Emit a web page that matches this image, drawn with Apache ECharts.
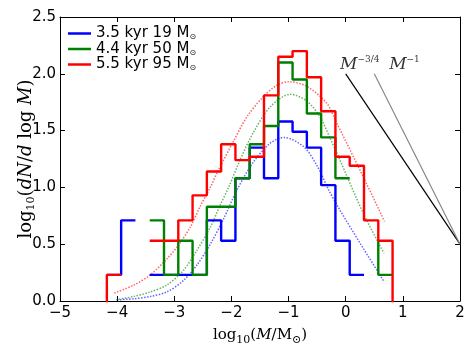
<!DOCTYPE html>
<html>
<head>
<meta charset="utf-8">
<script src="https://cdn.jsdelivr.net/npm/echarts@6/dist/echarts.min.js"></script>
<style>
html,body{margin:0;padding:0;background:#fff}
#main{width:474px;height:356px}
</style>
</head>
<body>
<div id="main"></div>
<script>
// bin edges, log10(M/Msun)
var binEdges = [-4.18,-3.93,-3.68,-3.43,-3.18,-2.93,-2.68,-2.43,-2.18,-1.93,-1.68,
                -1.43,-1.18,-0.93,-0.68,-0.43,-0.18,0.07,0.32,0.57,0.82];

// histogram runs (start = first bin, vals = log10(dN/dlogM) per bin, pre/post = edge level outside run)
var blueRuns = [
	{start:0, vals:[0.23,0.71]},
	{start:3, vals:[0.23,0.23,0.23,0.23,0.71,0.53,1.08,1.35,1.08,1.58,1.49,1.35,1.02,0.53,0.23]}
];
var greenRuns = [
	{start:3, vals:[0.71,0.23,0.53,0.23,0.83,0.83,1.08,1.38,1.54,2.10,1.95,1.65,1.44,1.08]},
	{start:19, vals:[0.23], pre:0.53}
];
var redRuns = [
	{start:0, vals:[0.23], pre:-1},
	{start:3, vals:[0.53,0.53,0.71,0.93,1.14,1.38,1.24,1.27,1.81,2.15,2.20,1.97,1.67,1.27,1.19,0.71,0.53], post:-1}
];

// fitted curves
var blueFit = [[-4.0,0.01],[-3.7,0.02],[-3.42,0.04],[-3.13,0.08],[-2.84,0.18],[-2.6,0.32],[-2.37,0.50],
	[-2.14,0.72],[-1.9,0.98],[-1.62,1.22],[-1.32,1.39],[-1.08,1.44],[-0.74,1.36],[-0.5,1.19],
	[-0.3,0.98],[-0.1,0.80],[0.25,0.51],[0.66,0.18]];
var greenFit = [[-4.02,0.01],[-3.71,0.04],[-3.42,0.08],[-3.13,0.14],[-2.84,0.27],[-2.6,0.45],[-2.37,0.65],
	[-2.2,0.84],[-2.05,1.0],[-1.85,1.24],[-1.62,1.48],[-1.32,1.71],[-0.97,1.82],[-0.68,1.76],
	[-0.45,1.62],[-0.27,1.43],[-0.1,1.24],[0.31,0.77],[0.67,0.42]];
var redFit = [[-4.05,0.07],[-3.71,0.14],[-3.42,0.23],[-3.13,0.37],[-2.93,0.49],[-2.72,0.65],[-2.55,0.83],
	[-2.37,1.0],[-2.23,1.15],[-1.97,1.40],[-1.73,1.62],[-1.44,1.80],[-1.2,1.90],[-1.0,1.93],
	[-0.68,1.89],[-0.33,1.74],[-0.19,1.60],[0.31,1.09],[0.68,0.70]];

// power-law guide lines
var slope34 = [[0,2.0],[2,0.5]];
var slope1 = [[0.5,2.0],[2,0.5]];
var slopeLabels = [[-0.1,1.99],[0.76,1.99]];

var names = ['3.5 kyr 19 M','4.4 kyr 50 M','5.5 kyr 95 M'];
var colors = ['#0000ff','#008000','#ff0000'];

function stepPath(runs){
	var pts = [];
	runs.forEach(function(r){
		if(r.pre !== undefined) pts.push([binEdges[r.start], r.pre]);
		r.vals.forEach(function(v,j){
			pts.push([binEdges[r.start+j], v]);
			pts.push([binEdges[r.start+j+1], v]);
		});
		if(r.post !== undefined) pts.push([binEdges[r.start+r.vals.length], r.post]);
		pts.push('-');
	});
	return pts;
}

function histSeries(name, runs, color){
	return {
		name:name, type:'line', data:stepPath(runs), symbol:'none',
		lineStyle:{color:color, width:2.4}, itemStyle:{color:color},
		connectNulls:false, z:3
	};
}
function fitSeries(data, color){
	return {
		name:'fit', type:'line', data:data, symbol:'none', smooth:0.3,
		lineStyle:{color:color, width:1.5, type:'dotted', opacity:0.6},
		z:2, silent:true
	};
}

var serif = 'DejaVu Serif';
function axisBase(extra){
	var a = {
		type:'value', axisLine:{onZero:false, lineStyle:{color:'#000', width:1}},
		axisTick:{inside:true, length:5, lineStyle:{color:'#000'}},
		splitLine:{show:false}
	};
	for(var k in extra) a[k] = extra[k];
	return a;
}
function nameRich(size){
	return {
		a:{fontFamily:serif, fontSize:size, color:'#000', lineHeight:22},
		i:{fontFamily:serif, fontSize:size, fontStyle:'italic', color:'#000', lineHeight:22},
		b:{fontFamily:serif, fontSize:11, color:'#000', verticalAlign:'bottom', lineHeight:14}
	};
}

var chart = echarts.init(document.getElementById('main'));
var option = {
	backgroundColor:'#fff',
	animation:false,
	grid:{left:60, right:14, top:17, bottom:55, outerBoundsMode:'none'},
	legend:{
		data:names, orient:'vertical', left:63, top:21, itemWidth:23, itemHeight:2.5, itemGap:0.5,
		icon:'rect',
		formatter:function(n){ return '{t|' + n + '}{s|⊙}'; },
		textStyle:{
			color:'#000', fontFamily:'DejaVu Sans', fontSize:15,
			rich:{
				t:{fontFamily:'DejaVu Sans', fontSize:15, color:'#000', lineHeight:15},
				s:{fontFamily:'DejaVu Sans', fontSize:8, color:'#000', verticalAlign:'bottom', lineHeight:9}
			}
		}
	},
	xAxis:[
		axisBase({
			min:-5, max:2, interval:1, position:'bottom',
			axisLabel:{color:'#000', fontFamily:'DejaVu Sans', fontSize:15, margin:5,
				formatter:function(v){ return v < 0 ? '\u2212' + Math.abs(v) : String(v); }},
			name:'{a|log}{b|10}{a|(}{i|M}{a|/M}{b|⊙}{a|)}', nameLocation:'middle', nameGap:23,
			nameMoveOverlap:false,
			nameTextStyle:{rich:nameRich(15)}
		}),
		axisBase({min:-5, max:2, interval:1, position:'top', axisLabel:{show:false}})
	],
	yAxis:[
		axisBase({
			min:0, max:2.5, interval:0.5, position:'left',
			axisLabel:{color:'#000', fontFamily:'DejaVu Sans', fontSize:15, margin:4,
				formatter:function(v){ return v.toFixed(1); }},
			name:'{a|log}{b|10}{a|(}{i|dN}{a|/}{i|d}{a| log }{i|M}{a|)}', nameLocation:'middle', nameGap:23, nameRotate:90,
			nameMoveOverlap:false,
			nameTextStyle:{rich:nameRich(18)}
		}),
		axisBase({min:0, max:2.5, interval:0.5, position:'right', axisLabel:{show:false}})
	],
	series:[
		histSeries(names[0], blueRuns, colors[0]),
		histSeries(names[1], greenRuns, colors[1]),
		histSeries(names[2], redRuns, colors[2]),
		fitSeries(blueFit, colors[0]),
		fitSeries(greenFit, colors[1]),
		fitSeries(redFit, colors[2]),
		{type:'line', data:slope34, symbol:'none', lineStyle:{color:'#000', width:1.2}, z:4, silent:true},
		{type:'line', data:slope1, symbol:'none', lineStyle:{color:'#888', width:1.2}, z:4, silent:true},
		{
			type:'scatter', symbolSize:0, silent:true, z:5,
			data:[
				{value:slopeLabels[0], label:{formatter:'{m|M}{s|\u22123/4}'}},
				{value:slopeLabels[1], label:{formatter:'{m|M}{s|\u22121}'}}
			],
			label:{show:true, position:'right', distance:0, align:'left', verticalAlign:'bottom',
				rich:{
					m:{fontFamily:serif, fontSize:17, fontStyle:'italic', color:'#000', lineHeight:20},
					s:{fontFamily:serif, fontSize:9, color:'#000', verticalAlign:'top', lineHeight:10}
				}}
		}
	]
};
chart.setOption(option);
</script>
</body>
</html>
